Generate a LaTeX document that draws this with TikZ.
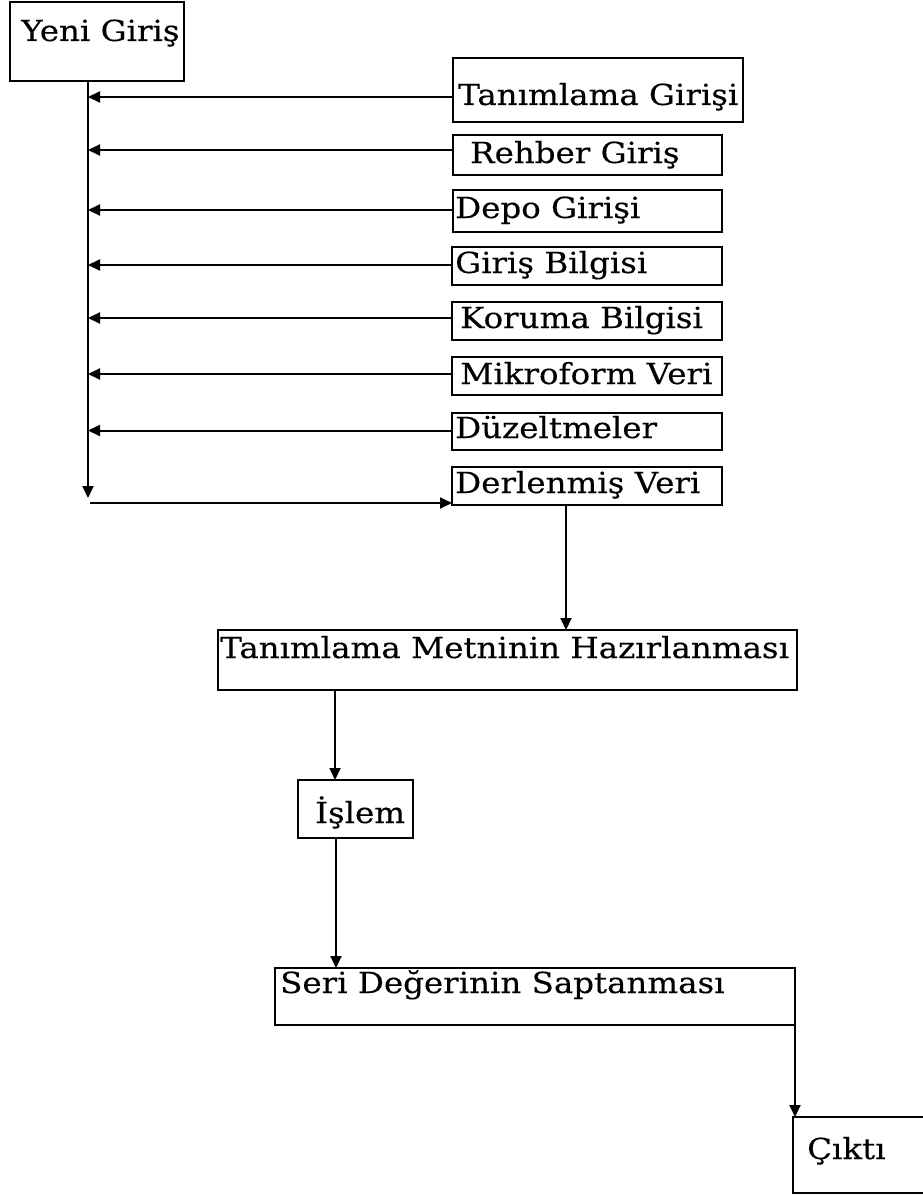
\documentclass[tikz,border=0pt]{standalone}
\usepackage{fontspec}
\setmainfont{DejaVu Serif}[FakeStretch=1.12,FakeBold=0.3]
\usetikzlibrary{arrows.meta,calc}

% \flowbox{name}{x}{y}{width}{height}{text dx}{text dy}{text}
\newcommand\flowbox[8]{%
  \node[box, minimum width=#4pt, minimum height=#5pt] (#1) at (#2,#3) {};
  \node[lbl] (#1-t) at ($(#1.north west)+(#6,#7)$) {#8};
}

\begin{document}
\begin{tikzpicture}[x=1pt,y=-1pt,
  box/.style={draw, line width=2.4pt, rectangle, anchor=north west, inner sep=0pt, outer sep=0pt},
  lbl/.style={anchor=base west, inner sep=0pt, font=\fontsize{29}{33}\selectfont},
  link/.style={line width=2pt, -{Triangle[length=12pt,width=11pt]}}]
\useasboundingbox (0,0) rectangle (923,1196);

% boxes
\flowbox{yeni}{10}{2}{174}{79}{11}{39}{Yeni Giriş}
\flowbox{tan}{453}{58}{290}{64}{5}{47}{Tanımlama Girişi}
\flowbox{reh}{453}{135}{269}{40}{17}{28}{Rehber Giriş}
\flowbox{depo}{453}{190}{269}{42}{2}{28}{Depo Girişi}
\flowbox{gir}{452}{247}{270}{38}{3}{26}{Giriş Bilgisi}
\flowbox{kor}{452}{302}{270}{38}{8}{26}{Koruma Bilgisi}
\flowbox{mik}{452}{357}{270}{38}{8}{27}{Mikroform Veri}
\flowbox{duz}{452}{413}{270}{37}{3}{25}{Düzeltmeler}
\flowbox{der}{452}{467}{270}{38}{3}{26}{Derlenmiş Veri}
\flowbox{tmh}{218}{630}{579}{60}{2}{28}{Tanımlama Metninin Hazırlanması}
\flowbox{isl}{298}{780}{115}{58}{17}{43}{İşlem}
\flowbox{seri}{275}{968}{520}{57}{5}{25}{Seri Değerinin Saptanması}
\flowbox{cikti}{793}{1117}{160}{76}{14}{42}{Çıktı}

% collecting trunk under the first box
\coordinate (trunk) at (88,0);
\coordinate (trunkend) at (88,498);
\coordinate (feed) at (90,503);
\draw[link] (yeni.south -| trunk) -- (trunkend);

% inputs feeding the trunk
\draw[link] ([yshift=-7pt]tan.west) -- ([yshift=-7pt]tan.west -| trunk);
\foreach \b/\s in {reh/5, depo/1, gir/1, kor/3, mik/2, duz/1}
  \draw[link] ([yshift=\s pt]\b.west) -- ([yshift=\s pt]\b.west -| trunk);

% trunk into compiled data
\draw[link] (feed) -- (feed -| der.west);

% main sequence
\coordinate (c1) at (566,0);
\coordinate (c2) at (335,0);
\coordinate (c3) at (336,0);
\draw[link] (der.south -| c1) -- (tmh.north -| c1);
\draw[link] (tmh.south -| c2) -- (isl.north -| c2);
\draw[link] (isl.south -| c3) -- (seri.north -| c3);
\draw[link] (seri.south east) -- (seri.south east |- cikti.north);
\end{tikzpicture}
\end{document}
